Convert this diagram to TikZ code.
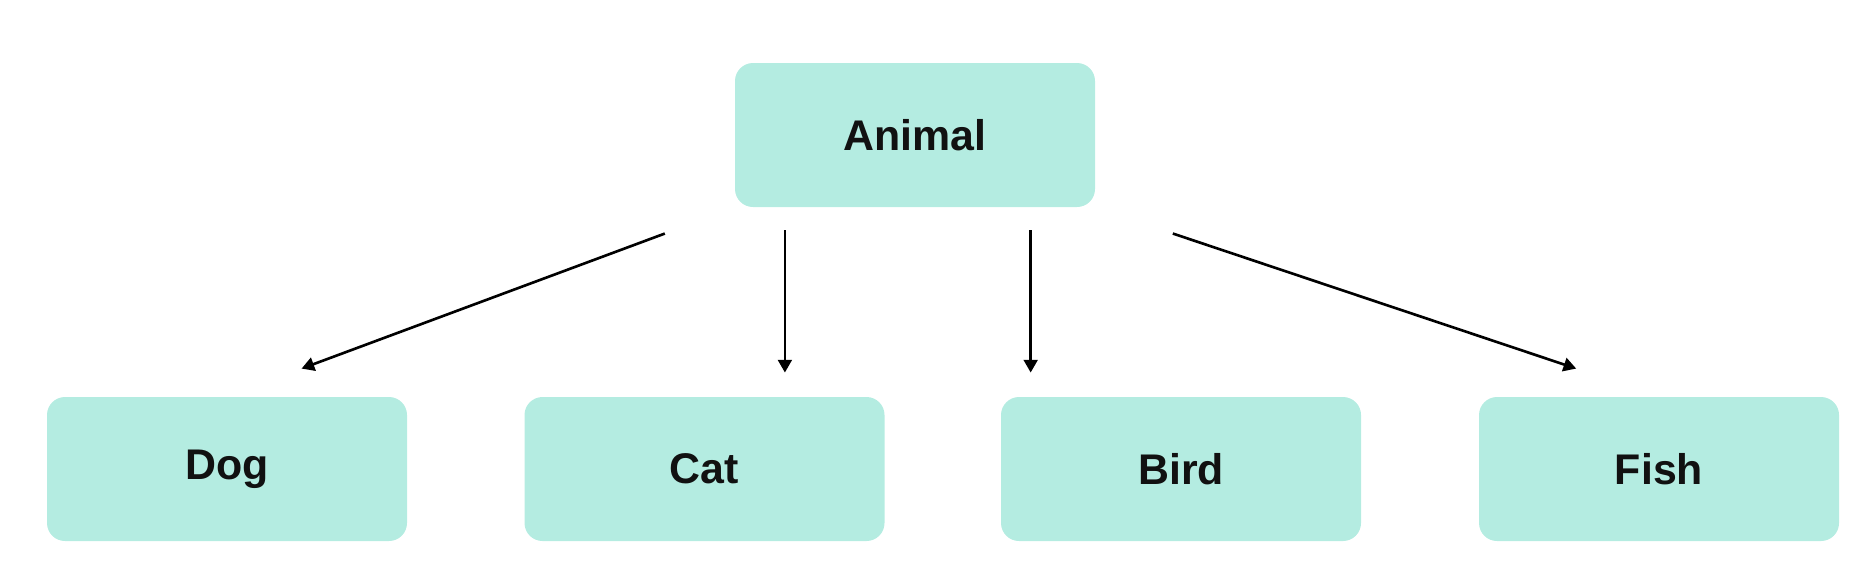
\documentclass[tikz,border=0pt]{standalone}
\usepackage{fontspec}
\setmainfont{Liberation Sans}
\usepackage{tikz}
\usetikzlibrary{arrows.meta,positioning,calc}
\definecolor{mentaCl}{RGB}{180,236,225}
\definecolor{textoOsc}{RGB}{17,17,17}

\begin{document}
\begin{tikzpicture}[
      clase/.style = {rectangle, rounded corners=0.18cm, minimum width=3.6cm,
          minimum height=1.44cm, fill=mentaCl, draw=none, text=textoOsc,
          font=\fontsize{12.2}{14}\selectfont\bfseries},
      herencia/.style = {-{Triangle[length=3.6pt,width=3.9pt]}, line width=0.75pt, color=black},
    ]
    \useasboundingbox (0,0) rectangle (18.66,-5.82);

    % ── Clase base ───────────────────────────────────────────────
    \node[clase] (animal) at (9.15,-1.35) {Animal};

    % ── Subclases ────────────────────────────────────────────────
    \node[clase] (dog)  at (2.27,-4.69)  {Dog};
    \node[clase] (cat)  at (7.045,-4.69) {Cat};
    \node[clase] (bird) at (11.81,-4.69) {Bird};
    \node[clase] (fish) at (16.59,-4.69) {Fish};

    % ── Puntos de salida ─────────────────────────────────────────
    \coordinate (sCat)  at ($(animal.south west)!0.14!(animal.south east)$);
    \coordinate (sBird) at ($(animal.south west)!0.82!(animal.south east)$);

    % ── Herencia ─────────────────────────────────────────────────
    \draw[herencia] ($(animal.south west)!0.137!(dog.north)$)
                 -- ($(animal.south west)!0.853!(dog.north)$);
    \draw[herencia] ($(sCat)!0.12!(sCat |- cat.north)$)
                 -- ($(sCat)!0.874!(sCat |- cat.north)$);
    \draw[herencia] ($(sBird)!0.12!(sBird |- bird.north)$)
                 -- ($(sBird)!0.874!(sBird |- bird.north)$);
    \draw[herencia] ($(animal.south east)!0.137!(fish.north)$)
                 -- ($(animal.south east)!0.853!(fish.north)$);

  \end{tikzpicture}
\end{document}
